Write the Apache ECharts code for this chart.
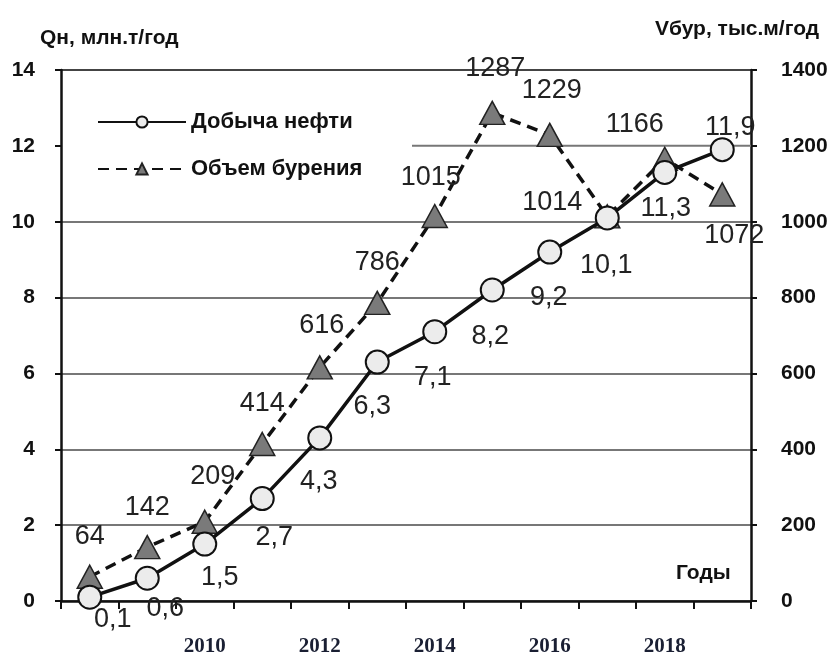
<!DOCTYPE html>
<html><head><meta charset="utf-8">
<script src="https://cdn.jsdelivr.net/npm/echarts@6/dist/echarts.min.js"></script>
<style>html,body{margin:0;padding:0;background:#fff}#c{width:832px;height:657px}</style>
</head><body><div id="c"></div>
<script>
const years = ['2008','2009','2010','2011','2012','2013','2014','2015','2016','2017','2018','2019'];
const oilValues = [0.1, 0.6, 1.5, 2.7, 4.3, 6.3, 7.1, 8.2, 9.2, 10.1, 11.3, 11.9];
const drillValues = [64, 142, 209, 414, 616, 786, 1015, 1287, 1229, 1014, 1166, 1072];
const oilName = 'Добыча нефти';
const drillName = 'Объем бурения';
const leftAxisName = 'Qн, млн.т/год';
const rightAxisName = 'Vбур, тыс.м/год';
const xAxisTitle = 'Годы';

// label placement (style only)
const oilLabelOffsets = [[23,22],[18,30],[15,33],[12,39],[-1,44],[-5,44],[-2,46],[-2,47],[-1,45],[-1,48],[1,36],[8,-22]];
const drillLabelOffsets = [[0,-40],[0,-40],[8,-45],[0,-40],[2,-42],[0,-40],[-4,-38],[3,-44],[2,-44],[-55,-14],[-30,-34],[12,41]];

const numFont = 'Liberation Sans, Arial, sans-serif';
const narrowFont = '"Liberation Sans Narrow", "Arial Narrow", Arial, sans-serif';

const chart = echarts.init(document.getElementById('c'), null, {renderer:'canvas'});
const grid = {left:61, right:81, top:70, bottom:55};

function labelCfg(offsets, fmt){
  return function(i){
    return {show:true, position:'inside', offset:offsets[i], formatter:fmt,
      fontFamily:numFont, fontSize:27, color:'#222', align:'center', verticalAlign:'middle'};
  };
}
const oilLabel = labelCfg(oilLabelOffsets, p => p.value.toFixed(1).replace('.', ','));
const drillLabel = labelCfg(drillLabelOffsets, p => String(p.value));

const option = {
  animation:false,
  backgroundColor:'#fff',
  grid: grid,
  legend: {
    data:[oilName, drillName], orient:'vertical', left:92, top:106,
    itemWidth:88, itemHeight:14, itemGap:25,
    textStyle:{fontFamily:narrowFont, fontWeight:'bold', fontSize:22, color:'#111'}
  },
  xAxis: {
    type:'category', data:years, boundaryGap:true,
    axisLine:{lineStyle:{color:'#111', width:2.5}},
    axisTick:{show:true, interval:0, length:8, lineStyle:{color:'#111', width:2}},
    axisLabel:{interval:(i)=> i>0 && i%2===0, margin:35, fontFamily:'"Liberation Serif", "Times New Roman", serif',
      fontWeight:'bold', fontSize:21, color:'#1a1f33'},
    splitLine:{show:false}
  },
  yAxis: [
    {type:'value', min:0, max:14, interval:2,
     axisLine:{show:true, lineStyle:{color:'#111', width:2.5}},
     axisTick:{show:true, length:6, lineStyle:{color:'#111', width:2}},
     axisLabel:{margin:26, fontFamily:narrowFont, fontWeight:'bold', fontSize:21, color:'#111', formatter:(v)=>String(v)},
     splitLine:{show:true, lineStyle:{color:['#777','#777','#777','#777','#777','#777','transparent','#444'], width:2}}
    },
    {type:'value', min:0, max:1400, interval:200,
     axisLine:{show:true, lineStyle:{color:'#111', width:2.5}},
     axisTick:{show:true, length:6, lineStyle:{color:'#111', width:2}},
     axisLabel:{margin:30, fontFamily:narrowFont, fontWeight:'bold', fontSize:21, color:'#111', formatter:(v)=>String(v)},
     splitLine:{show:false}
    }
  ],
  series: [
    {name:drillName, type:'line', yAxisIndex:1, z:2,
     data: drillValues.map((v,i)=>({value:v, label:drillLabel(i)})),
     symbol:'triangle', symbolSize:[25,23], showAllSymbol:true,
     lineStyle:{color:'#111', width:3.5, type:[11,7]},
     itemStyle:{color:'#7a7a7a', borderColor:'#222', borderWidth:1.5}
    },
    {name:oilName, type:'line', yAxisIndex:0, z:3,
     data: oilValues.map((v,i)=>({value:v, label:oilLabel(i)})),
     symbol:'circle', symbolSize:23, showAllSymbol:true,
     lineStyle:{color:'#111', width:3.5},
     itemStyle:{color:'#ececec', borderColor:'#111', borderWidth:2}
    }
  ]
};
chart.setOption(option);

// partial grid line at 12 (right of the legend) + titles
const y12 = chart.convertToPixel({yAxisIndex:0}, 12);
const xa = chart.convertToPixel({xAxisIndex:0}, years[5]);
const xb = chart.convertToPixel({xAxisIndex:0}, years[6]);
const xStart = (xa + xb) / 2 + 6;
const xEnd = chart.getWidth() - grid.right;
chart.setOption({
  graphic: [
    {type:'line', z:1, shape:{x1:xStart, y1:y12, x2:xEnd, y2:y12}, style:{stroke:'#777', lineWidth:2}},
    {type:'text', left:40, top:28, style:{text:leftAxisName, font:'bold 21px "Liberation Sans Narrow", Arial', fill:'#111'}},
    {type:'text', left:655, top:19, style:{text:rightAxisName, font:'bold 21px "Liberation Sans Narrow", Arial', fill:'#111'}},
    {type:'text', left:676, top:563, style:{text:xAxisTitle, font:'bold 21px "Liberation Sans Narrow", Arial', fill:'#111'}}
  ]
});
</script></body></html>
